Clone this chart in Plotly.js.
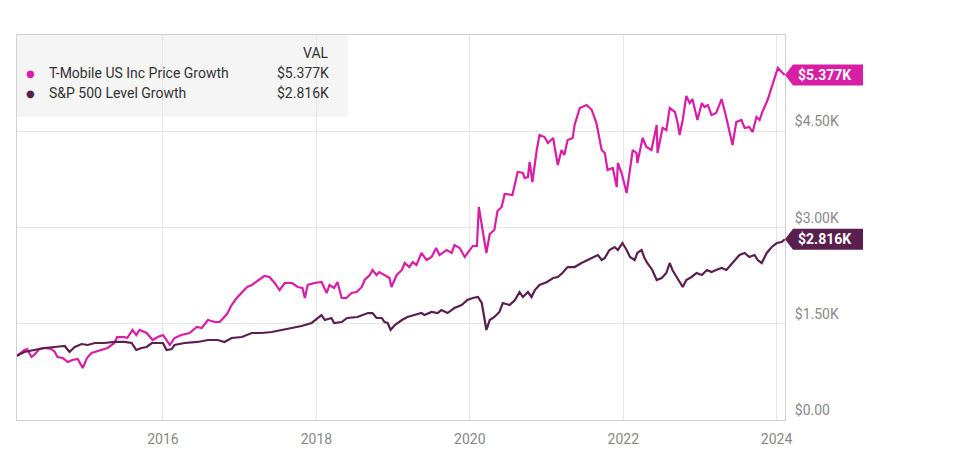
<!DOCTYPE html>
<html><head><meta charset="utf-8">
<script src="https://cdn.plot.ly/plotly-3.0.1.min.js"></script>
<style>html,body{margin:0;padding:0;background:#fff;}#chart{width:969px;height:460px;}</style>
</head><body><div id="chart"></div>
<script>
const seriesNames = ['T-Mobile US Inc Price Growth', 'S&P 500 Level Growth'];
const seriesColors = ['#d91ea6', '#5a1f4f'];

const tmusDates = ['2014-02-05','2014-03-12','2014-03-25','2014-04-15','2014-04-28','2014-05-22','2014-06-16','2014-07-19','2014-08-04','2014-08-17','2014-09-11','2014-10-05','2014-10-27','2014-11-21','2014-12-15','2015-01-04','2015-01-26','2015-02-24','2015-03-18','2015-04-12','2015-05-15','2015-05-28','2015-07-02','2015-07-15','2015-08-09','2015-08-27','2015-09-12','2015-10-15','2015-11-13','2015-12-07','2016-01-01','2016-02-03','2016-02-25','2016-03-28','2016-05-07','2016-06-10','2016-07-04','2016-08-02','2016-09-05','2016-09-27','2016-11-01','2016-11-23','2016-12-17','2017-01-11','2017-02-05','2017-02-27','2017-03-21','2017-04-15','2017-04-28','2017-05-22','2017-06-16','2017-07-09','2017-08-03','2017-09-06','2017-10-04','2017-10-26','2017-11-07','2017-11-20','2017-12-23','2018-01-25','2018-02-19','2018-03-04','2018-03-26','2018-04-11','2018-05-01','2018-05-23','2018-06-17','2018-07-11','2018-08-05','2018-08-18','2018-09-12','2018-09-25','2018-10-14','2018-10-27','2018-11-21','2018-12-15','2018-12-24','2019-01-18','2019-02-12','2019-02-25','2019-03-19','2019-04-04','2019-04-22','2019-05-16','2019-06-09','2019-07-03','2019-07-25','2019-08-10','2019-09-13','2019-10-07','2019-10-20','2019-11-14','2019-12-08','2019-12-21','2020-01-15','2020-02-04','2020-02-13','2020-03-02','2020-03-20','2020-04-05','2020-04-27','2020-05-12','2020-06-01','2020-06-15','2020-07-09','2020-07-22','2020-08-16','2020-09-10','2020-09-18','2020-10-04','2020-10-12','2020-10-25','2020-11-15','2020-11-28','2020-12-22','2021-01-07','2021-02-01','2021-02-23','2021-03-13','2021-03-26','2021-04-11','2021-05-05','2021-05-14','2021-06-08','2021-07-10','2021-08-04','2021-08-26','2021-09-20','2021-10-05','2021-10-18','2021-11-12','2021-12-01','2021-12-06','2021-12-24','2022-01-17','2022-02-15','2022-03-05','2022-03-09','2022-04-03','2022-04-21','2022-05-15','2022-06-09','2022-06-13','2022-07-07','2022-07-25','2022-08-10','2022-09-04','2022-09-17','2022-09-26','2022-10-11','2022-10-28','2022-11-13','2022-11-26','2022-12-20','2023-01-10','2023-01-23','2023-02-08','2023-02-25','2023-03-19','2023-04-14','2023-05-07','2023-06-05','2023-06-23','2023-07-17','2023-08-02','2023-08-24','2023-09-09','2023-09-27','2023-10-12','2023-10-25','2023-11-19','2023-12-09','2023-12-22','2024-01-07','2024-01-25','2024-02-09'];
const tmusValues = [1000,1091,1106,982,1013,1106,1122,1106,1060,982,966,904,935,951,810,966,1044,1075,1091,1122,1200,1293,1293,1278,1403,1325,1403,1356,1247,1293,1325,1169,1278,1325,1356,1449,1434,1558,1527,1527,1652,1792,1901,1979,2073,2104,2151,2213,2244,2229,2135,2026,2135,2135,2073,2057,1901,2104,2135,2151,1979,2104,2057,2151,1901,1901,1979,1995,2073,2182,2260,2338,2260,2306,2260,2213,2073,2260,2338,2447,2384,2462,2416,2603,2493,2540,2680,2571,2649,2603,2727,2680,2540,2603,2712,2712,3319,2961,2603,2899,2961,3257,3319,3522,3506,3506,3865,3849,3771,3787,4021,3709,4208,4441,4410,4317,4395,3974,4208,4130,4364,4395,4597,4862,4909,4831,4628,4208,4161,3896,3927,3631,4005,3849,3538,4208,4161,4005,4395,4254,4208,4597,4161,4551,4519,4862,4800,4628,4441,4675,5049,4940,5002,4675,4940,4878,4909,4753,4784,5002,4706,4286,4644,4675,4551,4566,4488,4722,4675,4800,4987,5205,5314,5486,5423,5377];

const spxDates = ['2014-02-05','2014-03-12','2014-04-28','2014-06-16','2014-08-04','2014-09-20','2014-10-13','2014-11-07','2014-12-10','2015-01-08','2015-02-11','2015-03-27','2015-05-15','2015-07-02','2015-08-05','2015-08-27','2015-09-21','2015-10-15','2015-11-09','2015-12-07','2016-01-01','2016-01-18','2016-02-12','2016-02-25','2016-04-13','2016-06-14','2016-08-02','2016-09-18','2016-10-20','2016-11-23','2017-01-11','2017-02-27','2017-04-15','2017-06-02','2017-07-18','2017-09-06','2017-10-22','2017-12-09','2018-01-08','2018-01-25','2018-02-10','2018-03-13','2018-03-26','2018-05-01','2018-05-27','2018-07-15','2018-09-03','2018-09-25','2018-10-14','2018-11-08','2018-11-21','2018-12-06','2018-12-20','2019-01-09','2019-02-12','2019-03-10','2019-04-12','2019-05-16','2019-05-30','2019-07-03','2019-08-01','2019-08-19','2019-09-17','2019-10-20','2019-11-23','2019-12-21','2020-01-15','2020-02-09','2020-02-27','2020-03-20','2020-04-05','2020-04-27','2020-05-21','2020-06-06','2020-07-09','2020-08-03','2020-08-25','2020-09-10','2020-10-04','2020-10-21','2020-11-06','2020-11-28','2021-01-03','2021-02-01','2021-02-23','2021-03-17','2021-04-11','2021-05-14','2021-06-16','2021-07-15','2021-08-09','2021-09-02','2021-09-20','2021-10-05','2021-10-27','2021-11-21','2021-12-06','2021-12-28','2022-01-17','2022-02-02','2022-02-24','2022-03-09','2022-03-29','2022-04-12','2022-04-25','2022-05-19','2022-06-09','2022-07-03','2022-07-25','2022-08-10','2022-08-23','2022-09-13','2022-10-11','2022-10-28','2022-11-22','2022-12-16','2023-01-10','2023-02-03','2023-02-25','2023-03-19','2023-04-14','2023-05-07','2023-06-05','2023-07-08','2023-08-02','2023-08-24','2023-09-18','2023-10-03','2023-10-22','2023-11-15','2023-12-09','2024-01-02','2024-01-25','2024-02-09'];
const spxValues = [1000,1060,1091,1122,1138,1153,1060,1138,1184,1169,1200,1200,1216,1216,1200,1091,1122,1138,1200,1200,1200,1091,1106,1169,1200,1216,1247,1247,1216,1278,1293,1356,1356,1371,1403,1434,1465,1512,1590,1636,1558,1590,1512,1527,1590,1605,1667,1667,1590,1590,1527,1512,1403,1480,1558,1605,1636,1667,1636,1683,1667,1714,1667,1745,1792,1870,1901,1917,1823,1403,1558,1605,1683,1823,1792,1870,1995,1917,1995,1917,2026,2104,2151,2213,2229,2291,2384,2384,2447,2493,2525,2571,2493,2525,2649,2696,2649,2758,2649,2540,2493,2603,2649,2525,2447,2338,2182,2213,2291,2447,2338,2229,2073,2182,2229,2291,2260,2338,2306,2338,2369,2338,2447,2571,2603,2540,2571,2493,2447,2603,2696,2758,2774,2816];

const yTickVals = [0, 1500, 3000, 4500];
const yTickText = ['$0.00', '$1.50K', '$3.00K', '$4.50K'];
const xTickVals = ['2016-01-01', '2018-01-01', '2020-01-01', '2022-01-01', '2024-01-01'];
const xTickText = ['2016', '2018', '2020', '2022', '2024'];
const xRange = ['2014-02-05', '2024-02-10'];
const yRange = [0, 6000];

function fmtK(v) { return '$' + (v / 1000).toFixed(3) + 'K'; }

const allDates = [tmusDates, spxDates];
const allValues = [tmusValues, spxValues];

const traces = allValues.map((vals, i) => ({
  type: 'scatter', mode: 'lines', x: allDates[i], y: vals, name: seriesNames[i],
  line: { color: seriesColors[i], width: 2.2 }, hoverinfo: 'skip', showlegend: false
}));

const FONT = 'Roboto, "Open Sans", sans-serif';
const VAL_X = 0.409;
const shapes = [
  { type: 'rect', xref: 'paper', yref: 'paper', x0: 0, x1: 0.431, y0: 0.787, y1: 1,
    fillcolor: '#f5f5f5', line: { width: 0 }, layer: 'below' }
];
const annotations = [
  { xref: 'paper', yref: 'paper', x: VAL_X, y: 0.953, xanchor: 'right', yanchor: 'middle',
    text: 'VAL', showarrow: false, font: { family: FONT, size: 14, color: '#333' } }
];
const legendY = [0.901, 0.849];
allValues.forEach((vals, i) => {
  const last = vals[vals.length - 1];
  annotations.push({ xref: 'paper', yref: 'paper', x: 0.0182, y: legendY[i], xanchor: 'center', yanchor: 'middle',
    text: '●', showarrow: false, font: { family: 'DejaVu Sans', size: 10, color: seriesColors[i] } });
  annotations.push({ xref: 'paper', yref: 'paper', x: 0.039, y: legendY[i], xanchor: 'left', yanchor: 'middle',
    text: seriesNames[i].replace('&', '&amp;'), showarrow: false, font: { family: FONT, size: 14, color: '#333' } });
  annotations.push({ xref: 'paper', yref: 'paper', x: VAL_X, y: legendY[i], xanchor: 'right', yanchor: 'middle',
    text: fmtK(last), showarrow: false, font: { family: FONT, size: 14, color: '#333' } });
  // end-value flag
  shapes.push({ type: 'path', xref: 'paper', yref: 'y', xsizemode: 'pixel', ysizemode: 'pixel',
    xanchor: 1, yanchor: last, path: 'M 0 0 L 8 10.5 L 78 10.5 L 78 -10.5 L 8 -10.5 Z',
    fillcolor: seriesColors[i], line: { width: 0 }, layer: 'above' });
  annotations.push({ xref: 'paper', yref: 'y', x: 1, y: last, xanchor: 'left', yanchor: 'middle', xshift: 11,
    text: '<b>' + fmtK(last) + '</b>', showarrow: false, font: { family: FONT, size: 14, color: '#ffffff' } });
});

const layout = {
  width: 969, height: 460,
  margin: { l: 17, r: 184, t: 35, b: 40 },
  paper_bgcolor: '#ffffff', plot_bgcolor: '#ffffff',
  font: { family: FONT, size: 14, color: '#888' },
  showlegend: false,
  xaxis: {
    type: 'date', range: xRange, tickvals: xTickVals, ticktext: xTickText,
    showgrid: true, gridcolor: '#e6e6e6', gridwidth: 1, zeroline: false,
    showline: true, linecolor: '#d0d0d0', linewidth: 1, mirror: true, ticks: '',
    ticklabelstandoff: 6,
    tickfont: { family: FONT, size: 14, color: '#888' }, fixedrange: true
  },
  yaxis: {
    side: 'right', range: yRange, tickvals: yTickVals, ticktext: yTickText,
    showgrid: true, gridcolor: '#e6e6e6', gridwidth: 1, zeroline: false,
    showline: true, linecolor: '#d0d0d0', linewidth: 1, mirror: true, ticks: '',
    ticklabelposition: 'outside top', ticklabelstandoff: 6,
    tickfont: { family: FONT, size: 14, color: '#888' }, fixedrange: true
  },
  shapes: shapes,
  annotations: annotations
};

Plotly.newPlot('chart', traces, layout, { displayModeBar: false, staticPlot: true });
</script>
</body></html>
